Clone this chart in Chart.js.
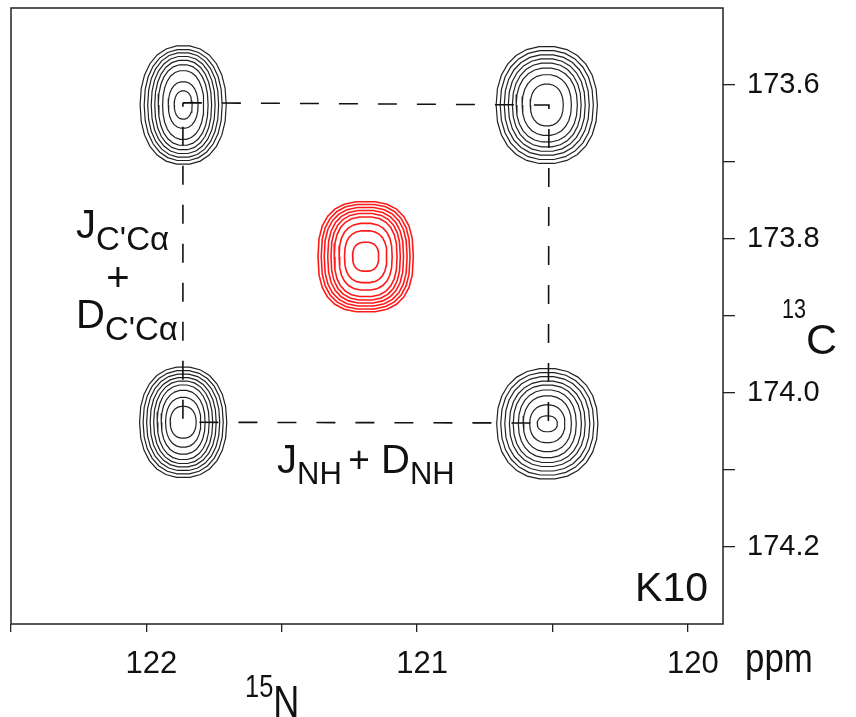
<!DOCTYPE html>
<html lang="en">
<head>
  <meta charset="UTF-8">
  <title>K10 coupling spectrum</title>
  <script src="https://cdn.jsdelivr.net/npm/chart.js"></script>
  <style>
    body { margin: 0; background: #fff; }
  </style>
</head>
<body>
  <canvas id="myChart" width="856" height="717"></canvas>

  <script>
    // peak centres (15N ppm, 13C ppm): top-left, top-right, bottom-left, bottom-right, centre (red)
    const peakN15 = [121.864, 120.521, 121.864, 120.519, 121.190];
    const peakC13 = [173.626, 173.626, 174.038, 174.040, 173.823];

    // contour half-widths (ppm) of every ring, outer to inner
    const ringsN15TL = [0.159, 0.144, 0.131, 0.118, 0.105, 0.092, 0.076, 0.055, 0.033];
    const ringsC13TL = [0.0773, 0.0725, 0.0682, 0.0634, 0.0584, 0.0526, 0.0448, 0.0303, 0.0184];
    const ringsN15TR = [0.187, 0.172, 0.157, 0.142, 0.127, 0.113, 0.091, 0.061];
    const ringsC13TR = [0.0764, 0.0712, 0.0656, 0.0604, 0.0548, 0.0483, 0.0396, 0.0273];
    const ringsN15BL = [0.161, 0.148, 0.135, 0.122, 0.109, 0.096, 0.081, 0.065, 0.048];
    const ringsC13BL = [0.0721, 0.0675, 0.0630, 0.0584, 0.0539, 0.0487, 0.0416, 0.0325, 0.0208];
    const ringsN15BR = [0.187, 0.172, 0.157, 0.140, 0.126, 0.107, 0.089, 0.065, 0.037];
    const ringsC13BR = [0.0721, 0.0669, 0.0617, 0.0558, 0.0506, 0.0442, 0.0364, 0.0247, 0.0104];
    const ringsN15C = [0.176, 0.164, 0.153, 0.140, 0.128, 0.116, 0.098, 0.078, 0.048];
    const ringsC13C = [0.0718, 0.0682, 0.0643, 0.0604, 0.0565, 0.0519, 0.0435, 0.0338, 0.0188];

    // dashed coupling box through the four multiplet components
    const boxN15 = [121.865, 120.513, 120.515, 121.865, 121.865];
    const boxC13 = [173.623, 173.626, 174.039, 174.038, 173.623];

    // axes
    const xTickValues = [122.5, 122, 121.5, 121, 120.5, 120];
    const xTickLabels = ['', '122', '', '121', '', '120'];
    const yTickValues = [173.6, 173.7, 173.8, 173.9, 174.0, 174.1, 174.2];
    const yTickLabels = ['173.6', '', '173.8', '', '174.0', '', '174.2'];

    const sans = "'Liberation Sans', Arial, sans-serif";

    // closed contour ring around a centre
    function ring(cx, cy, rx, ry, sq) {
      const pts = [];
      const segs = 26;
      for (let i = 0; i <= segs; i++) {
        const t = 2 * Math.PI * i / segs;
        const c = Math.cos(t), s = Math.sin(t);
        pts.push({
          x: cx + rx * Math.sign(c) * Math.pow(Math.abs(c), 2 / sq),
          y: cy + ry * Math.sign(s) * Math.pow(Math.abs(s), 2 / sq)
        });
      }
      return pts;
    }

    const peakRings = [
      [ringsN15TL, ringsC13TL],
      [ringsN15TR, ringsC13TR],
      [ringsN15BL, ringsC13BL],
      [ringsN15BR, ringsC13BR],
      [ringsN15C, ringsC13C]
    ];

    const datasets = [];
    datasets.push({
      data: boxN15.map((v, i) => ({ x: v, y: boxC13[i] })),
      showLine: true,
      borderColor: '#111',
      borderWidth: 1.6,
      borderDash: [19, 20],
      pointRadius: 0
    });
    peakRings.forEach(([rn, rc], p) => {
      const red = p === 4;
      rn.forEach((r, k) => {
        datasets.push({
          data: ring(peakN15[p], peakC13[p], r, rc[k], red ? 2.6 : 2.25),
          showLine: true,
          borderColor: red ? '#ff1a1a' : '#222',
          borderWidth: red ? 1.6 : 1.2,
          pointRadius: 0,
          tension: 0
        });
      });
    });

    // frame and annotation text
    const decor = {
      id: 'decor',
      afterDraw(chart) {
        const c = chart.ctx;
        const a = chart.chartArea;
        c.save();
        c.strokeStyle = '#222';
        c.lineWidth = 1.5;
        c.strokeRect(a.left, a.top, a.right - a.left, a.bottom - a.top);

        c.fillStyle = '#111';
        c.textBaseline = 'alphabetic';
        // text pieces drawn one after another; sx < 1 squeezes them like a condensed face
        function run(x, y, parts, sx) {
          sx = sx || 1;
          parts.forEach(([txt, font, dy]) => {
            c.font = font;
            c.save();
            c.translate(x, y + dy);
            c.scale(sx, 1);
            c.fillText(txt, 0, 0);
            c.restore();
            x += c.measureText(txt).width * sx;
          });
          return x;
        }
        const big = '40px ' + sans, sub = '31px ' + sans, subw = '33px ' + sans;
        run(76, 238, [['J', big, 0], ["C'C\u03b1", subw, 12]]);
        c.textAlign = 'center';
        c.font = big;
        c.fillText('+', 118, 291);
        c.font = '37px ' + sans;
        c.fillText('+', 359, 472);
        c.textAlign = 'left';
        run(76, 328, [['D', big, 0], ["C'C\u03b1", subw, 12]]);
        run(277, 473, [['J', big, 0], ['NH', sub, 11]]);
        run(381, 473, [['D', big, 0], ['NH', sub, 11]]);

        c.textAlign = 'right';
        c.font = '41px ' + sans;
        c.fillText('K10', 708, 601);
        c.textAlign = 'left';

        run(745, 672, [['ppm', '41px ' + sans, 0]], 0.85);
        run(245, 697, [['15', '31px ' + sans, 0], ['N', '44px ' + sans, 20]], 0.82);
        const cx = run(782, 318, [['13', '27px ' + sans, 0]], 0.8);
        run(cx, 354, [['C', '43px ' + sans, 0]]);
        c.restore();
      }
    };

    const ctx = document.getElementById('myChart').getContext('2d');
    new Chart(ctx, {
      type: 'scatter',
      data: { datasets: datasets },
      options: {
        responsive: false,
        animation: false,
        layout: { padding: { left: 11, top: 8, right: 0, bottom: 0 } },
        plugins: { legend: { display: false }, tooltip: { enabled: false } },
        scales: {
          x: {
            type: 'linear',
            position: 'bottom',
            reverse: true,
            min: 119.87,
            max: 122.5,
            border: { display: false },
            grid: { drawOnChartArea: false, drawTicks: true, tickLength: 8, color: '#222', lineWidth: 1.3 },
            afterBuildTicks(scale) { scale.ticks = xTickValues.map(v => ({ value: v })); },
            afterFit(scale) {
              scale.height = 93;
              scale.paddingLeft = 0;
              scale.paddingRight = 0;
            },
            ticks: {
              autoSkip: false,
              maxRotation: 0,
              padding: 14,
              labelOffset: 5,
              color: '#111',
              font: { family: sans, size: 31 },
              callback: (v, i) => xTickLabels[i]
            }
          },
          y: {
            type: 'linear',
            position: 'right',
            reverse: true,
            min: 173.5,
            max: 174.3,
            border: { display: false },
            grid: { drawOnChartArea: false, drawTicks: true, tickLength: 12, color: '#222', lineWidth: 1.3 },
            afterBuildTicks(scale) { scale.ticks = yTickValues.map(v => ({ value: v })); },
            afterFit(scale) {
              scale.width = 133;
              scale.paddingTop = 0;
              scale.paddingBottom = 0;
            },
            ticks: {
              autoSkip: false,
              padding: 12,
              color: '#111',
              font: { family: sans, size: 29 },
              callback: (v, i) => yTickLabels[i]
            }
          }
        }
      },
      plugins: [decor]
    });
  </script>
</body>
</html>
